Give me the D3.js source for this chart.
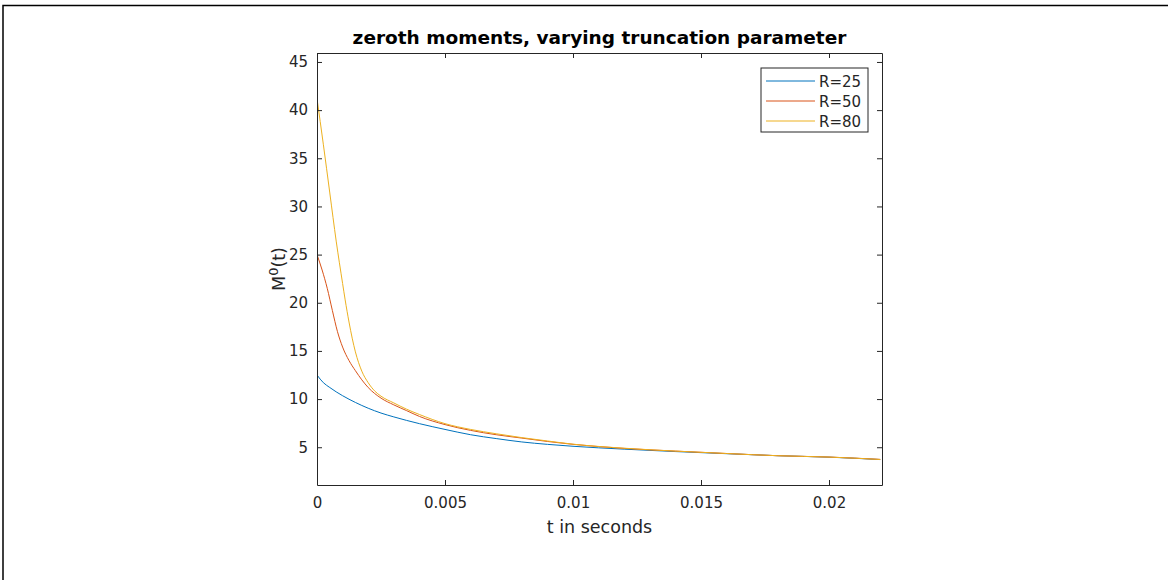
<!DOCTYPE html>
<html><head><meta charset="utf-8">
<script src="https://cdn.jsdelivr.net/npm/d3@7"></script>
<style>body{margin:0;background:#fff;} svg{display:block;}</style>
</head><body>
<svg id="chart" width="1168" height="580"></svg>
<script>
const title = "zeroth moments, varying truncation parameter";
const xLabel = "t in seconds";
const seriesNames = ["R=25", "R=50", "R=80"];
const seriesColors = ["#0072BD", "#D95319", "#EDB120"];
const xTicks = [0, 0.005, 0.01, 0.015, 0.02];
const xTickLabels = ["0", "0.005", "0.01", "0.015", "0.02"];
const yTicks = [5, 10, 15, 20, 25, 30, 35, 40, 45];
const xDomain = [0, 0.02207];
const yDomain = [1.08, 45.93];

// time in seconds
const tR25 = [0, 0.00025, 0.0005, 0.00075, 0.001, 0.0015, 0.002, 0.0025, 0.003, 0.004, 0.005, 0.006, 0.007, 0.008, 0.009, 0.010, 0.012, 0.014, 0.016, 0.018, 0.020, 0.022];
const vR25 = [12.5, 11.7, 11.2, 10.75, 10.35, 9.65, 9.05, 8.55, 8.15, 7.45, 6.85, 6.3, 5.9, 5.55, 5.3, 5.1, 4.8, 4.55, 4.33, 4.12, 3.97, 3.72];

const tR50 = [0, 0.0002, 0.0004, 0.0006, 0.0008, 0.001, 0.00125, 0.0015, 0.00175, 0.002, 0.0025, 0.003, 0.0035, 0.004, 0.005, 0.006, 0.007, 0.008, 0.009, 0.010, 0.012, 0.014, 0.016, 0.018, 0.020, 0.022];
const vR50 = [25, 23.4, 21.5, 19.2, 17.0, 15.4, 14.0, 12.95, 12.0, 11.2, 10.1, 9.4, 8.8, 8.2, 7.35, 6.75, 6.3, 5.95, 5.6, 5.3, 4.88, 4.6, 4.35, 4.12, 3.98, 3.74];

const tR80 = [0, 0.00025, 0.0005, 0.00075, 0.001, 0.0011, 0.00125, 0.0015, 0.00175, 0.002, 0.00225, 0.0025, 0.003, 0.0035, 0.004, 0.005, 0.006, 0.007, 0.008, 0.009, 0.010, 0.012, 0.014, 0.016, 0.018, 0.020, 0.022];
const vR80 = [41.2, 36.4, 31.4, 26.4, 22.0, 20.3, 18.0, 14.9, 12.9, 11.7, 10.85, 10.3, 9.6, 8.95, 8.4, 7.45, 6.85, 6.4, 6.0, 5.65, 5.32, 4.9, 4.6, 4.35, 4.12, 3.98, 3.73];

const seriesT = [tR25, tR50, tR80];
const seriesV = [vR25, vR50, vR80];

const svg = d3.select("#chart");
const font = "'DejaVu Sans', sans-serif";
const axisColor = "#262626";
const L = 317, R = 882, T = 53, B = 485;

// figure border
svg.append("rect").attr("x", 3).attr("y", 5.5).attr("width", 1300).attr("height", 700)
  .attr("fill", "none").attr("stroke", "#000").attr("stroke-width", 1.5);

const x = d3.scaleLinear().domain(xDomain).range([L, R]);
const y = d3.scaleLinear().domain(yDomain).range([B, T]);

const g = svg.append("g");
g.append("defs").append("clipPath").attr("id", "clip")
  .append("rect").attr("x", L).attr("y", T).attr("width", R - L).attr("height", B - T);

// lines
const line = d3.line().x(d => x(d[0])).y(d => y(d[1])).curve(d3.curveMonotoneX);
seriesT.forEach((ts, i) => {
  const pts = ts.map((t, j) => [t, seriesV[i][j]]);
  g.append("path").datum(pts).attr("clip-path", "url(#clip)")
    .attr("fill", "none").attr("stroke", seriesColors[i]).attr("stroke-width", 1)
    .attr("d", line);
});

// axes
const tickLen = 5;
const xAxisB = d3.axisBottom(x).tickValues(xTicks).tickFormat((d, i) => xTickLabels[i]).tickSizeInner(-tickLen).tickSizeOuter(0).tickPadding(12);
const xAxisT = d3.axisTop(x).tickValues(xTicks).tickFormat("").tickSizeInner(-tickLen).tickSizeOuter(0);
const yAxisL = d3.axisLeft(y).tickValues(yTicks).tickSizeInner(-tickLen).tickSizeOuter(0).tickPadding(9);
const yAxisR = d3.axisRight(y).tickValues(yTicks).tickFormat("").tickSizeInner(-tickLen).tickSizeOuter(0);

function style(sel) {
  sel.selectAll("path.domain").attr("stroke", axisColor).attr("stroke-width", 1);
  sel.selectAll(".tick line").attr("stroke", axisColor).attr("stroke-width", 1);
  sel.selectAll(".tick text").attr("fill", axisColor).style("font-family", font).style("font-size", "15px");
}
g.append("g").attr("transform", `translate(0,${B})`).call(xAxisB).call(style);
g.append("g").attr("transform", `translate(0,${T})`).call(xAxisT).call(style);
g.append("g").attr("transform", `translate(${L},0)`).call(yAxisL).call(style);
g.append("g").attr("transform", `translate(${R},0)`).call(yAxisR).call(style);

// title
svg.append("text").attr("x", (L + R) / 2).attr("y", 44).attr("text-anchor", "middle")
  .style("font-family", font).style("font-size", "18.5px").style("font-weight", "bold").attr("fill", "#000")
  .text(title);

// x label
svg.append("text").attr("x", (L + R) / 2).attr("y", 533).attr("text-anchor", "middle")
  .style("font-family", font).style("font-size", "17.5px").attr("fill", axisColor).text(xLabel);

// y label M^0(t)
const yl = svg.append("text").attr("transform", `translate(285,${(T + B) / 2}) rotate(-90)`)
  .attr("text-anchor", "middle").style("font-family", font).style("font-size", "17.5px").attr("fill", axisColor);
yl.append("tspan").text("M");
yl.append("tspan").attr("dy", -7).style("font-size", "13px").text("0");
yl.append("tspan").attr("dy", 7).text("(t)");

// legend
const lg = svg.append("g");
const lgX = 761, lgY = 68, lgW = 107, rowH = 20;
lg.append("rect").attr("x", lgX).attr("y", lgY).attr("width", lgW).attr("height", rowH * 3 + 4)
  .attr("fill", "#fff").attr("stroke", axisColor).attr("stroke-width", 1);
seriesNames.forEach((n, i) => {
  const cy = lgY + 13 + i * rowH;
  lg.append("line").attr("x1", lgX + 5).attr("x2", lgX + 54).attr("y1", cy).attr("y2", cy)
    .attr("stroke", seriesColors[i]).attr("stroke-width", 1);
  lg.append("text").attr("x", lgX + 58).attr("y", cy + 5.5).style("font-family", font)
    .style("font-size", "15px").attr("fill", axisColor).text(n);
});
</script>
</body></html>
